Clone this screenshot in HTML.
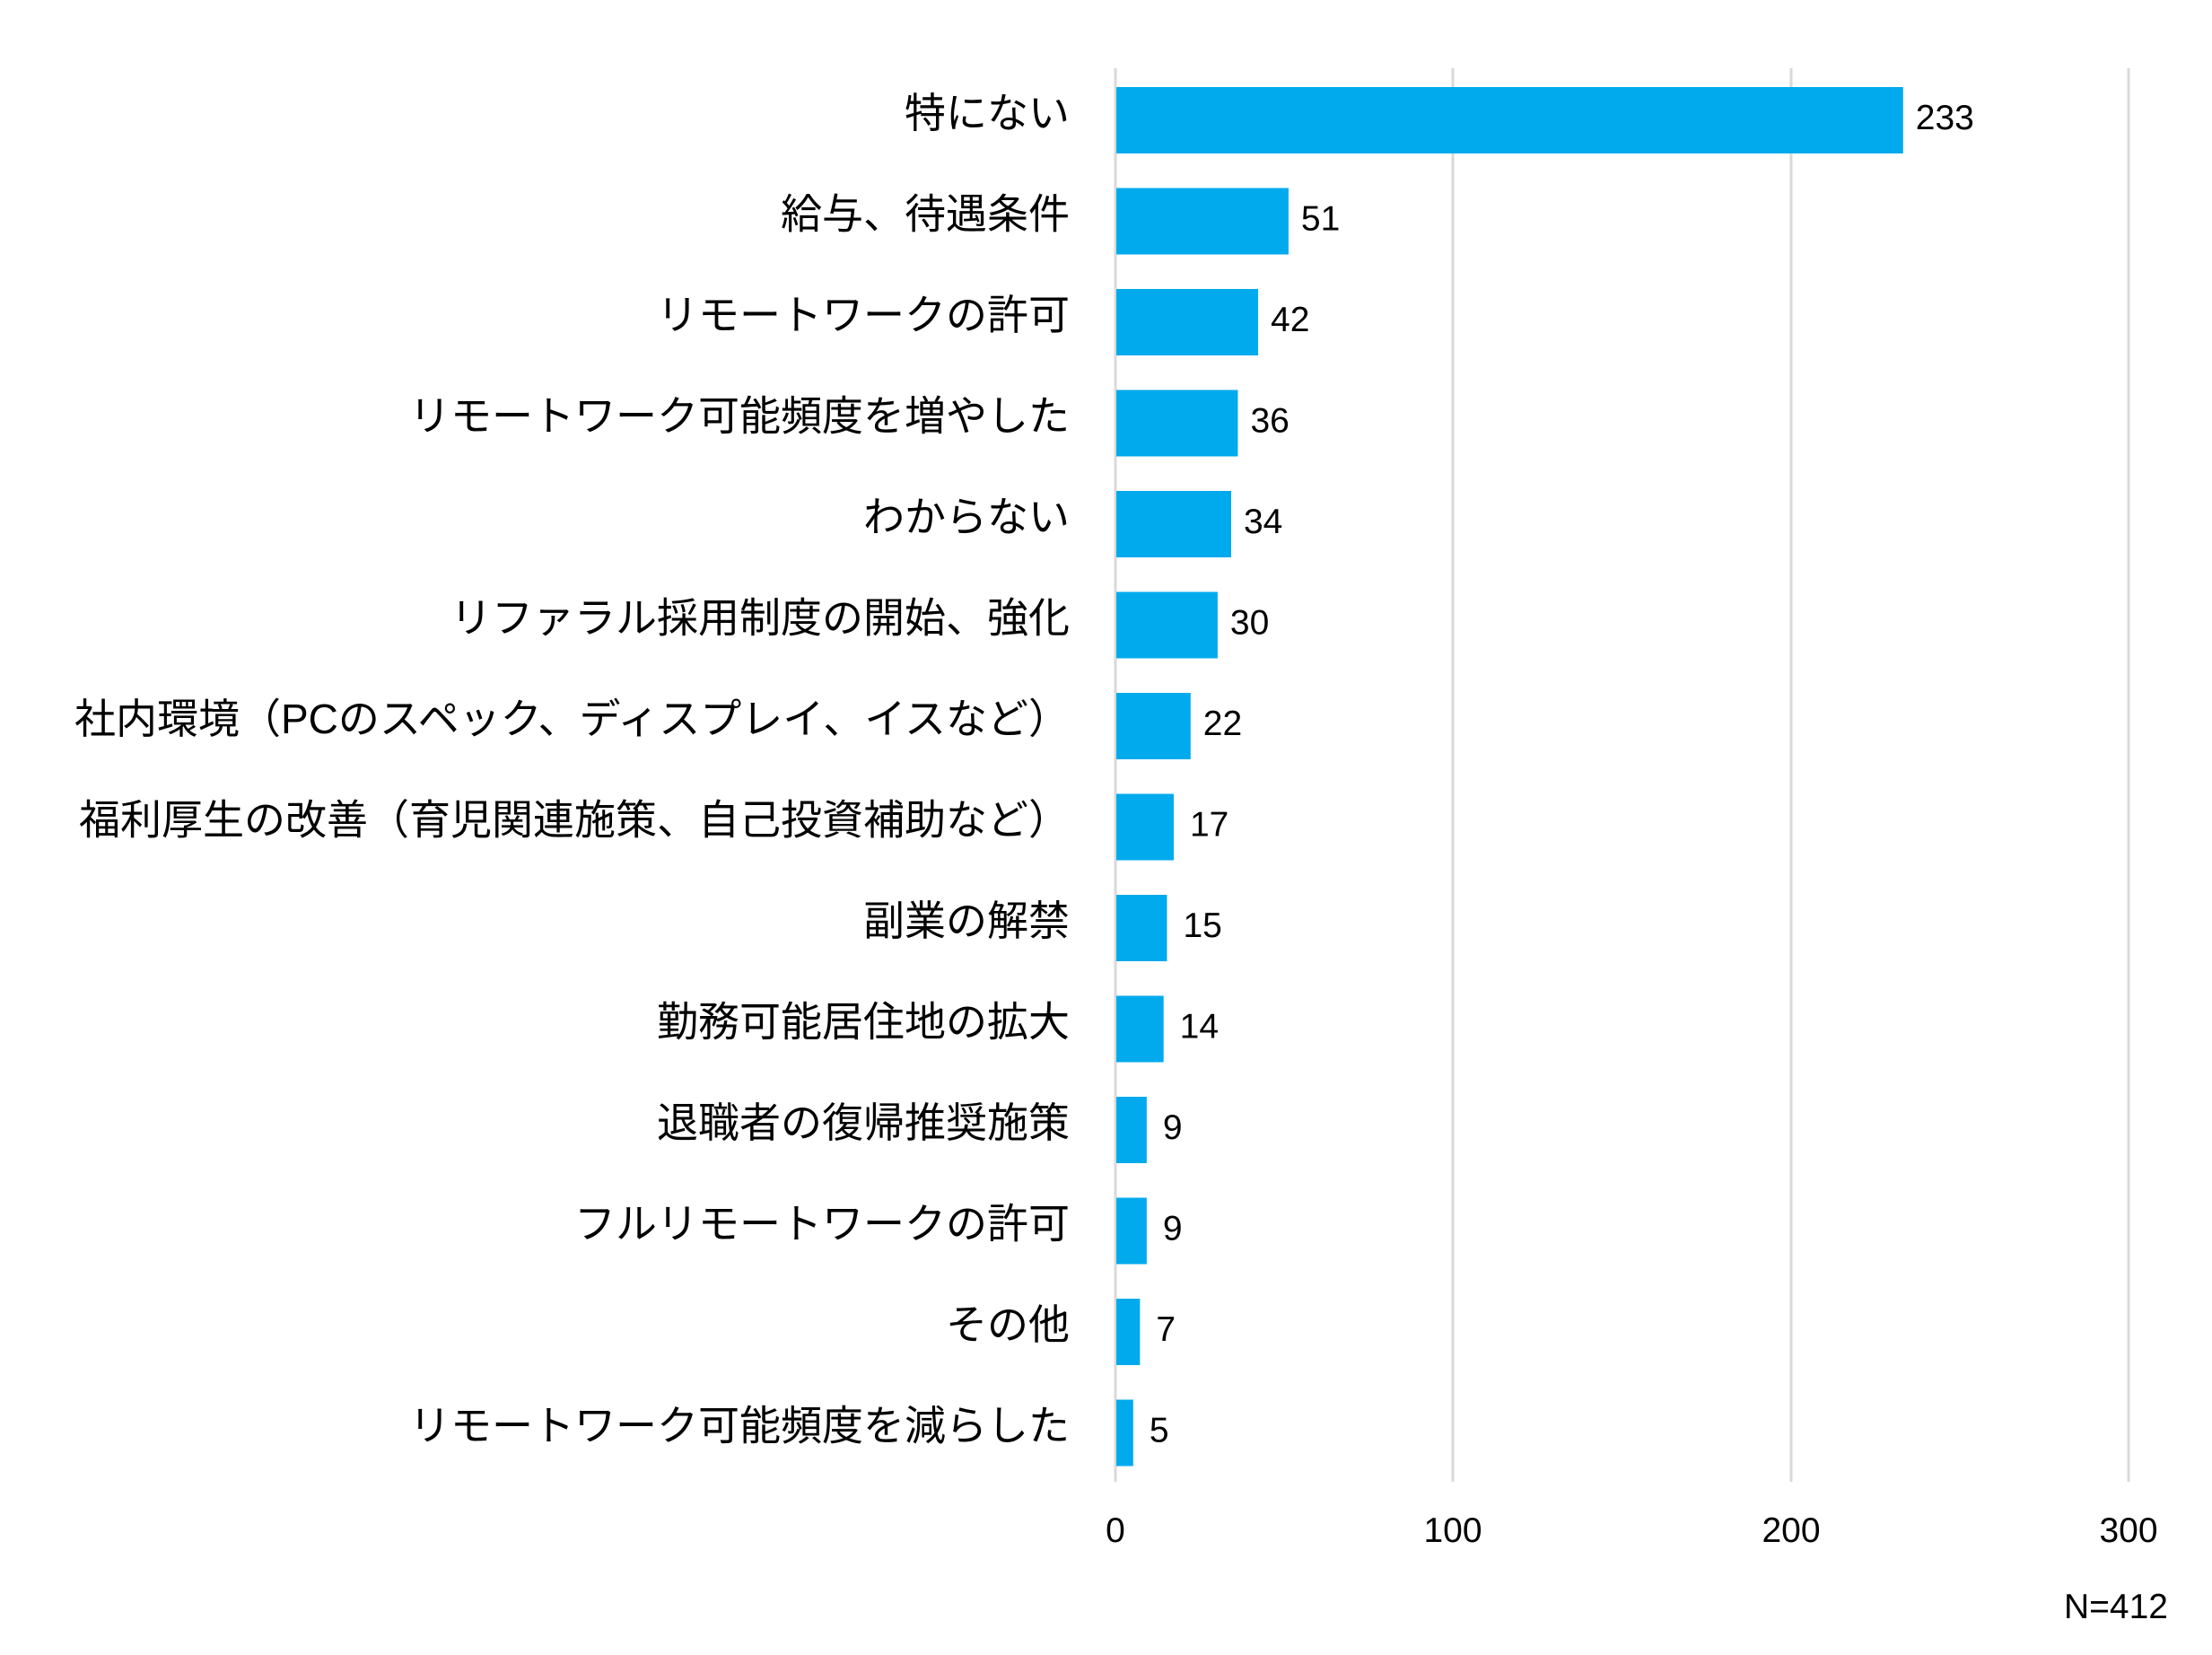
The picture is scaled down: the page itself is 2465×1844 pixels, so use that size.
<!DOCTYPE html>
<html><head><meta charset="utf-8"><style>html,body{margin:0;padding:0;background:#fff}</style></head><body>
<svg width="2465" height="1839" viewBox="0 0 2465 1839" xmlns="http://www.w3.org/2000/svg" font-family="'Liberation Sans','Noto Sans CJK JP',sans-serif">
<g stroke="#d9d9d9" stroke-width="3">
<line x1="1243" y1="76" x2="1243" y2="1651"/>
<line x1="1619" y1="76" x2="1619" y2="1651"/>
<line x1="1996" y1="76" x2="1996" y2="1651"/>
<line x1="2372" y1="76" x2="2372" y2="1651"/>
</g>
<g id="bars" fill="#00aaed"></g>
<g id="labels" font-size="46" text-anchor="end" fill="#000"></g>
<g id="vals" font-size="39" fill="#000"></g>
<g font-size="39" text-anchor="middle" fill="#000">
<text x="1243" y="1718">0</text><text x="1619" y="1718">100</text><text x="1996" y="1718">200</text><text x="2372" y="1718">300</text>
</g>
<text x="2416" y="1803" font-size="39" text-anchor="end">N=412</text>
<script>
var d=[["特にない",233],["給与、待遇条件",51],["リモートワークの許可",42],["リモートワーク可能頻度を増やした",36],["わからない",34],["リファラル採用制度の開始、強化",30],["社内環境（PCのスペック、ディスプレイ、イスなど）",22],["福利厚生の改善（育児関連施策、自己投資補助など）",17],["副業の解禁",15],["勤務可能居住地の拡大",14],["退職者の復帰推奨施策",9],["フルリモートワークの許可",9],["その他",7],["リモートワーク可能頻度を減らした",5]];
var ns="http://www.w3.org/2000/svg",b=document.getElementById("bars"),l=document.getElementById("labels"),v=document.getElementById("vals");
d.forEach(function(r,i){var c=134+i*112.5,w=r[1]*3.763;
var e=document.createElementNS(ns,"rect");e.setAttribute("x",1244);e.setAttribute("y",c-37);e.setAttribute("width",w);e.setAttribute("height",74);b.appendChild(e);
var t=document.createElementNS(ns,"text");t.setAttribute("x",1192);t.setAttribute("y",c+8);t.textContent=r[0];l.appendChild(t);
var s=document.createElementNS(ns,"text");s.setAttribute("x",1244+w+(r[1]<20?18:14));s.setAttribute("y",c+10);s.textContent=r[1];v.appendChild(s);});
</script>
</svg>
</body></html>
